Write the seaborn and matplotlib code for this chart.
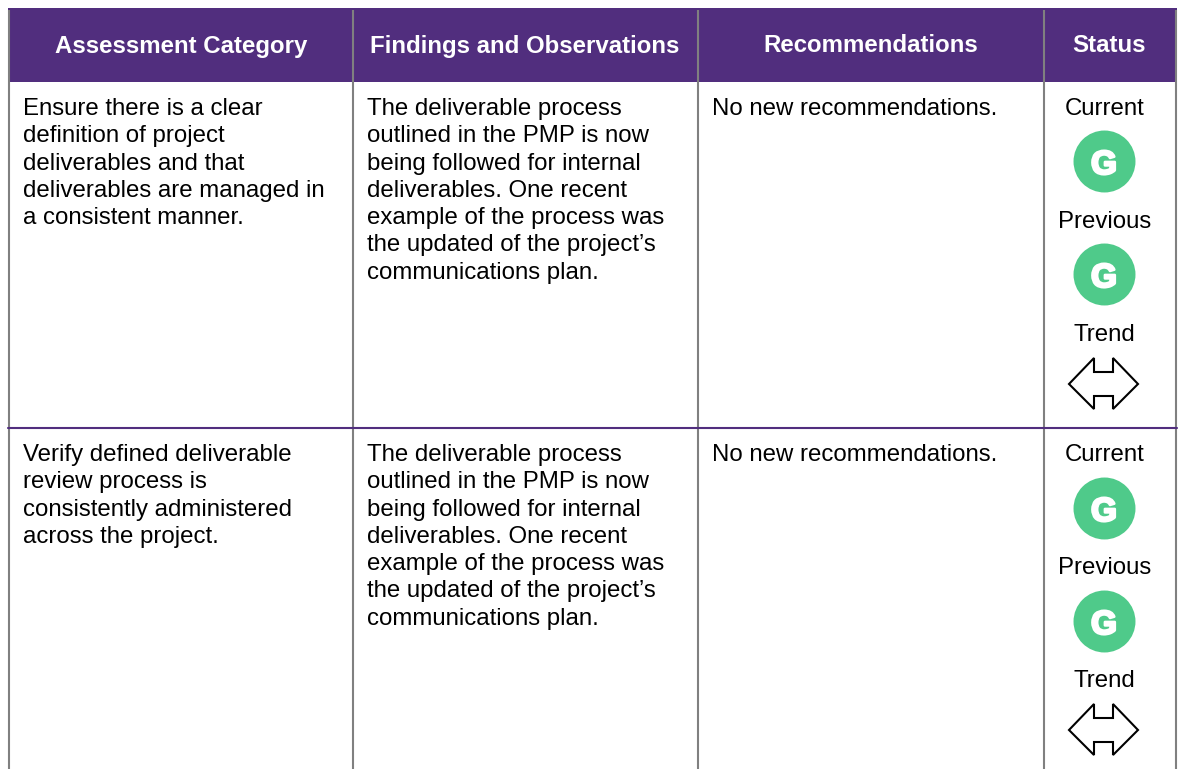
import matplotlib
matplotlib.use("Agg")
import matplotlib.pyplot as plt
import matplotlib.patheffects as pe
import pandas as pd
import seaborn as sns
from matplotlib.patches import Polygon, Rectangle

# ----------------------------------------------------------
# CONTENT
# ----------------------------------------------------------

headers = ["Assessment Category", "Findings and Observations", "Recommendations", "Status"]

categories = [
    "Ensure there is a clear\ndefinition of project\ndeliverables and that\ndeliverables are managed in\na consistent manner.",
    "Verify defined deliverable\nreview process is\nconsistently administered\nacross the project.",
]

finding = (
    "The deliverable process\noutlined in the PMP is now\nbeing followed for internal\n"
    "deliverables. One recent\nexample of the process was\nthe updated of the project\u2019s\n"
    "communications plan."
)
findings = [finding, finding]
recommendations = ["No new recommendations.", "No new recommendations."]
status_current = ["G", "G"]
status_previous = ["G", "G"]

# ----------------------------------------------------------
# LAYOUT (pixels)
# ----------------------------------------------------------

PURPLE = "#512e7e"
GREEN = "#4fca8a"
GREY = "#808080"

col_lines = [9, 352.5, 698, 1043.5, 1175.5]
col_centers = [181, 525, 870.5, 1109.5]
text_x = [23, 367, 712]
status_x = 1104
row_tops = [81, 427]
LINE_STEP = 27.3
FONT = 17.3

sns.set_theme(style="white")
plt.rcParams["font.family"] = ["Liberation Sans", "DejaVu Sans"]

fig = plt.figure(figsize=(11.8, 7.69), dpi=100)
ax = fig.add_axes([0, 0, 1, 1])
ax.set_xlim(0, 1180)
ax.set_ylim(769, 0)
ax.axis("off")

# header band
ax.add_patch(Rectangle((8, 8), 1169, 73.5, color=PURPLE, lw=0, zorder=1))
for x in col_lines:
    ax.plot([x, x], [10, 769], color=GREY, lw=1.5, zorder=2, solid_capstyle="butt")
ax.plot([8, 1177], [427.7, 427.7], color=PURPLE, lw=1.5, zorder=3)

for x, h in zip(col_centers, headers):
    ax.text(x, 52.5, h, color="white", fontsize=FONT, fontweight="bold",
            ha="center", va="baseline", zorder=4)

# table rows, one text per line so the line step stays exact
for i, top in enumerate(row_tops):
    for x, txt in zip(text_x, [categories[i], findings[i], recommendations[i]]):
        for j, line in enumerate(txt.split("\n")):
            ax.text(x, top + 34 + j * LINE_STEP, line, color="black", fontsize=FONT,
                    ha="left", va="baseline", zorder=4)

    for label, y in zip(["Current", "Previous", "Trend"], [34, 147, 260]):
        ax.text(status_x + 0.5, top + y, label, color="black", fontsize=FONT,
                ha="center", va="baseline", zorder=4)

# status circles
circles = pd.DataFrame({
    "x": [status_x] * 4,
    "y": [row_tops[0] + 80, row_tops[0] + 193, row_tops[1] + 81, row_tops[1] + 194],
    "status": [status_current[0], status_previous[0], status_current[1], status_previous[1]],
})
sns.scatterplot(data=circles, x="x", y="y", s=1990, color=GREEN, linewidth=0,
                legend=False, ax=ax, zorder=5, clip_on=False)
for _, row in circles.iterrows():
    ax.text(row["x"], row["y"] + 13, row["status"], color="white", fontsize=24, fontweight="bold",
            ha="center", va="baseline", zorder=6,
            path_effects=[pe.withStroke(linewidth=1.8, foreground="white")])

# trend arrows
for top in row_tops:
    c = top + 303
    pts = [(-35, 0), (-10, -26), (-10, -12), (9, -12), (9, -26), (34, 0),
           (9, 25), (9, 12), (-10, 12), (-10, 25)]
    ax.add_patch(Polygon([(status_x + px, c + py) for px, py in pts], closed=True,
                         facecolor="white", edgecolor="black", lw=1.5, zorder=5))

ax.set_xlabel("")
ax.set_ylabel("")
ax.set_xlim(0, 1180)
ax.set_ylim(769, 0)

fig.savefig("out.png", dpi=100)
